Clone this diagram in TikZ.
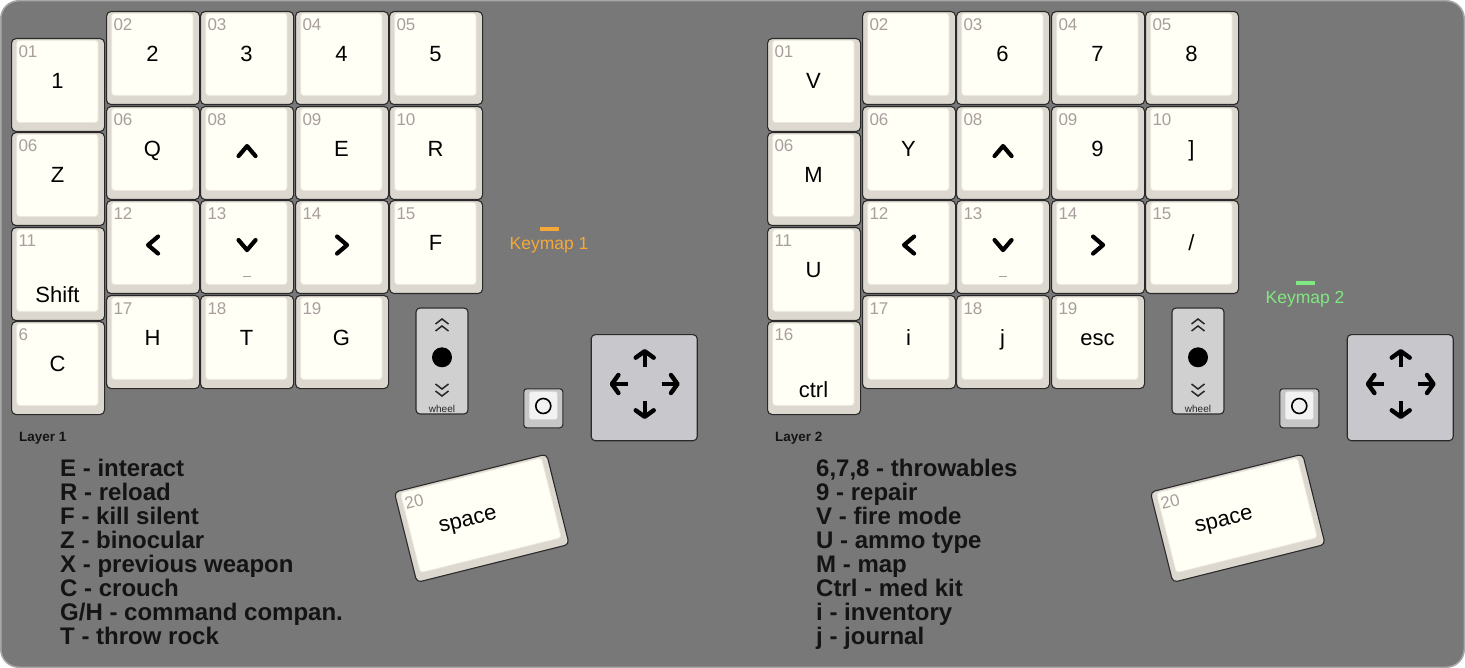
\documentclass[tikz,border=0pt]{standalone}
\usepackage{fontspec}
\setmainfont{Liberation Sans}
\usepackage{xcolor}
\usetikzlibrary{arrows.meta}

\definecolor{boardgray}{HTML}{787878}
\definecolor{boardline}{HTML}{A8A8A8}
\definecolor{capside}{HTML}{DDD8CF}
\definecolor{captop}{HTML}{FFFFF5}
\definecolor{caprim}{HTML}{ECE8DF}
\definecolor{capline}{HTML}{2A2A2A}
\definecolor{numgray}{HTML}{A89E9E}
\definecolor{wheelgray}{HTML}{D0D0D0}
\definecolor{stickgray}{HTML}{C8C8CC}
\definecolor{kmorange}{HTML}{F5A83A}
\definecolor{kmgreen}{HTML}{80E880}
\definecolor{legendink}{HTML}{141414}

\newcommand{\px}[1]{\fontsize{#1}{#1}\selectfont}

% key: [label baseline]{name}{x}{y}{number}{label}, 1 unit = 1px, y downwards
\newcommand{\kbkey}[6][50.7]{%
  \node[keyframe, anchor=north west] (#2) at (#3,#4) {};
  \draw[keytop] ({#3+5.7},{#4+2.3}) rectangle ({#3+87},{#4+84.5});
  \node[keynum, anchor=base west] (#2-n) at ({#3+7.3},{#4+19.7}) {#5};
  \node[keylbl, anchor=base] (#2-l) at ({#3+46.5},{#4+#1}) {#6};
}
\newcommand{\chevup}[1]{\draw[chev] ([shift={(-8.5,3)}]#1.center) -- ([shift={(0,-7)}]#1.center) -- ([shift={(8.5,3)}]#1.center);}
\newcommand{\chevdown}[1]{\draw[chev] ([shift={(-8.5,-7)}]#1.center) -- ([shift={(0,3)}]#1.center) -- ([shift={(8.5,-7)}]#1.center);}
\newcommand{\chevleft}[1]{\draw[chev] ([shift={(5,-10.5)}]#1.center) -- ([shift={(-5,-2)}]#1.center) -- ([shift={(5,6.5)}]#1.center);}
\newcommand{\chevright}[1]{\draw[chev] ([shift={(-5,-10.5)}]#1.center) -- ([shift={(5,-2)}]#1.center) -- ([shift={(-5,6.5)}]#1.center);}

% wheel, thumb button, stick and space key of one half
\newcommand{\extras}[1]{%
  \node[wheelbox] (#1-wh) at (442,361) {};
  \draw[wheelchev] ([shift={(-6.5,-37)}]#1-wh.center) -- ([shift={(0,-42)}]#1-wh.center) -- ([shift={(6.5,-37)}]#1-wh.center);
  \draw[wheelchev] ([shift={(-6.5,-30)}]#1-wh.center) -- ([shift={(0,-35)}]#1-wh.center) -- ([shift={(6.5,-30)}]#1-wh.center);
  \node[circle, fill=black, minimum size=20pt, inner sep=0pt] (#1-wh-dot) at ([shift={(0,-3.7)}]#1-wh.center) {};
  \draw[wheelchev] ([shift={(-6.5,23)}]#1-wh.center) -- ([shift={(0,28)}]#1-wh.center) -- ([shift={(6.5,23)}]#1-wh.center);
  \draw[wheelchev] ([shift={(-6.5,30)}]#1-wh.center) -- ([shift={(0,35)}]#1-wh.center) -- ([shift={(6.5,30)}]#1-wh.center);
  \node[font=\px{10}, text=black!85, inner sep=0pt] (#1-wh-t) at ([shift={(0,48)}]#1-wh.center) {wheel};
  %
  \node[thumbbox] (#1-th) at (543.3,408.3) {};
  \draw[fill=black!5, draw=none, rounded corners=1.5pt] ([shift={(-14,-16.6)}]#1-th.center) rectangle ([shift={(14,11)}]#1-th.center);
  \node[circle, draw=black, line width=1.6pt, minimum size=15pt, inner sep=0pt] (#1-th-o) at ([shift={(0,-2.3)}]#1-th.center) {};
  %
  \node[stickbox] (#1-js) at (644.2,387.7) {};
  \coordinate (#1-jc) at ([shift={(0.5,-3.7)}]#1-js.center);
  \draw[stickarrow] ([shift={(0,-17)}]#1-jc) -- ([shift={(0,-35)}]#1-jc);
  \draw[stickarrow] ([shift={(0,17)}]#1-jc) -- ([shift={(0,35)}]#1-jc);
  \draw[stickarrow] ([shift={(-17,0)}]#1-jc) -- ([shift={(-35,0)}]#1-jc);
  \draw[stickarrow] ([shift={(17,0)}]#1-jc) -- ([shift={(35,0)}]#1-jc);
  %
  \begin{scope}[shift={(481.75,518.25)}, rotate=14, transform shape]
    \node[keyframe, minimum width=157pt] (#1-20) at (0,0) {};
    \draw[keytop] (-72.8,-44.2) rectangle (72.5,38);
    \node[keynum, anchor=base west] (#1-20-n) at (-71.2,-26.8) {20};
    \node[keylbl, anchor=base] (#1-20-l) at (-14,4.2) {space};
  \end{scope}
}

\begin{document}
\begin{tikzpicture}[x=1pt, y=-1pt,
  keyframe/.style={draw=capline, fill=capside, line width=1.1pt, rounded corners=4.5pt,
    minimum width=93pt, minimum height=93pt, inner sep=0pt},
  keytop/.style={draw=caprim, fill=captop, line width=0.8pt, rounded corners=3pt},
  keynum/.style={text=numgray, font=\px{17}, inner sep=0pt},
  keylbl/.style={text=black, font=\px{22}, inner sep=0pt},
  chev/.style={line width=4.2pt, line cap=round, line join=round},
  wheelbox/.style={draw=capline, fill=wheelgray, line width=1.1pt, rounded corners=4pt,
    minimum width=52pt, minimum height=106pt, inner sep=0pt},
  wheelchev/.style={line width=1.5pt, draw=black!85},
  thumbbox/.style={draw=capline, fill=black!22, line width=1.1pt, rounded corners=3pt,
    minimum width=39pt, minimum height=39pt, inner sep=0pt},
  stickbox/.style={draw=capline, fill=stickgray, line width=1.1pt, rounded corners=4pt,
    minimum width=106pt, minimum height=106pt, inner sep=0pt},
  stickarrow/.style={line width=4.4pt, -{Straight Barb[length=6.5pt, width=18pt, round]}},
  layer/.style={font=\px{13.5}\bfseries, text=legendink, inner sep=0pt, anchor=west},
  legend/.style={font={\fontsize{24}{24}\selectfont\bfseries}, text=legendink, align=left,
    inner sep=0pt, anchor=north west},
  keymap/.style={font=\px{17.5}, inner sep=0pt}
]
  \useasboundingbox (0,0) rectangle (1465,668);
  \draw[draw=boardline, fill=boardgray, line width=1.5pt, rounded corners=18pt]
    (0.75,0.75) rectangle (1464.25,667.25);

  % left half
  \kbkey{L01}{11}{38}{01}{1}
  \kbkey{L06z}{11}{132}{06}{Z}
  \kbkey[76]{L11}{11}{227}{11}{Shift}
  \kbkey{L6}{11}{321}{6}{C}
  \kbkey{L02}{106}{11}{02}{2}
  \kbkey{L03}{200}{11}{03}{3}
  \kbkey{L04}{295}{11}{04}{4}
  \kbkey{L05}{389}{11}{05}{5}
  \kbkey{L06q}{106}{106}{06}{Q}
  \kbkey{L08}{200}{106}{08}{}
  \kbkey{L09}{295}{106}{09}{E}
  \kbkey{L10}{389}{106}{10}{R}
  \kbkey{L12}{106}{200}{12}{}
  \kbkey{L13}{200}{200}{13}{}
  \kbkey{L14}{295}{200}{14}{}
  \kbkey{L15}{389}{200}{15}{F}
  \kbkey{L17}{106}{295}{17}{H}
  \kbkey{L18}{200}{295}{18}{T}
  \kbkey{L19}{295}{295}{19}{G}
  \chevup{L08}
  \chevleft{L12}
  \chevdown{L13}
  \chevright{L14}
  \draw[numgray, line width=1pt] ([shift={(-4,29.5)}]L13.center) -- ([shift={(4,29.5)}]L13.center);
  \extras{L}
  \node[keymap, text=kmorange] (km1) at (549,245) {Keymap 1};
  \fill[kmorange] ([shift={(-9.5,-18)}]km1.center) rectangle ([shift={(9.5,-14)}]km1.center);
  \node[layer] (layer1) at (19,438) {Layer 1};
  \node[legend] (legend1) at (60,458.5) {E - interact\\R - reload\\F - kill silent\\Z - binocular\\
    X - previous weapon\\C - crouch\\G/H - command compan.\\T - throw rock};

  % right half
  \begin{scope}[xshift=756pt]
    \kbkey{R01}{11}{38}{01}{V}
    \kbkey{R06m}{11}{132}{06}{M}
    \kbkey{R11}{11}{227}{11}{U}
    \kbkey[76]{R16}{11}{321}{16}{ctrl}
    \kbkey{R02}{106}{11}{02}{}
    \kbkey{R03}{200}{11}{03}{6}
    \kbkey{R04}{295}{11}{04}{7}
    \kbkey{R05}{389}{11}{05}{8}
    \kbkey{R06y}{106}{106}{06}{Y}
    \kbkey{R08}{200}{106}{08}{}
    \kbkey{R09}{295}{106}{09}{9}
    \kbkey{R10}{389}{106}{10}{]}
    \kbkey{R12}{106}{200}{12}{}
    \kbkey{R13}{200}{200}{13}{}
    \kbkey{R14}{295}{200}{14}{}
    \kbkey{R15}{389}{200}{15}{/}
    \kbkey{R17}{106}{295}{17}{i}
    \kbkey{R18}{200}{295}{18}{j}
    \kbkey{R19}{295}{295}{19}{esc}
    \chevup{R08}
    \chevleft{R12}
    \chevdown{R13}
    \chevright{R14}
    \draw[numgray, line width=1pt] ([shift={(-4,29.5)}]R13.center) -- ([shift={(4,29.5)}]R13.center);
    \extras{R}
    \node[keymap, text=kmgreen] (km2) at (549,299) {Keymap 2};
    \fill[kmgreen] ([shift={(-9.5,-18)}]km2.center) rectangle ([shift={(9.5,-14)}]km2.center);
    \node[layer] (layer2) at (19,438) {Layer 2};
    \node[legend] (legend2) at (60,458.5) {6,7,8 - throwables\\9 - repair\\V - fire mode\\U - ammo type\\
      M - map\\Ctrl - med kit\\i - inventory\\j - journal};
  \end{scope}
\end{tikzpicture}
\end{document}
